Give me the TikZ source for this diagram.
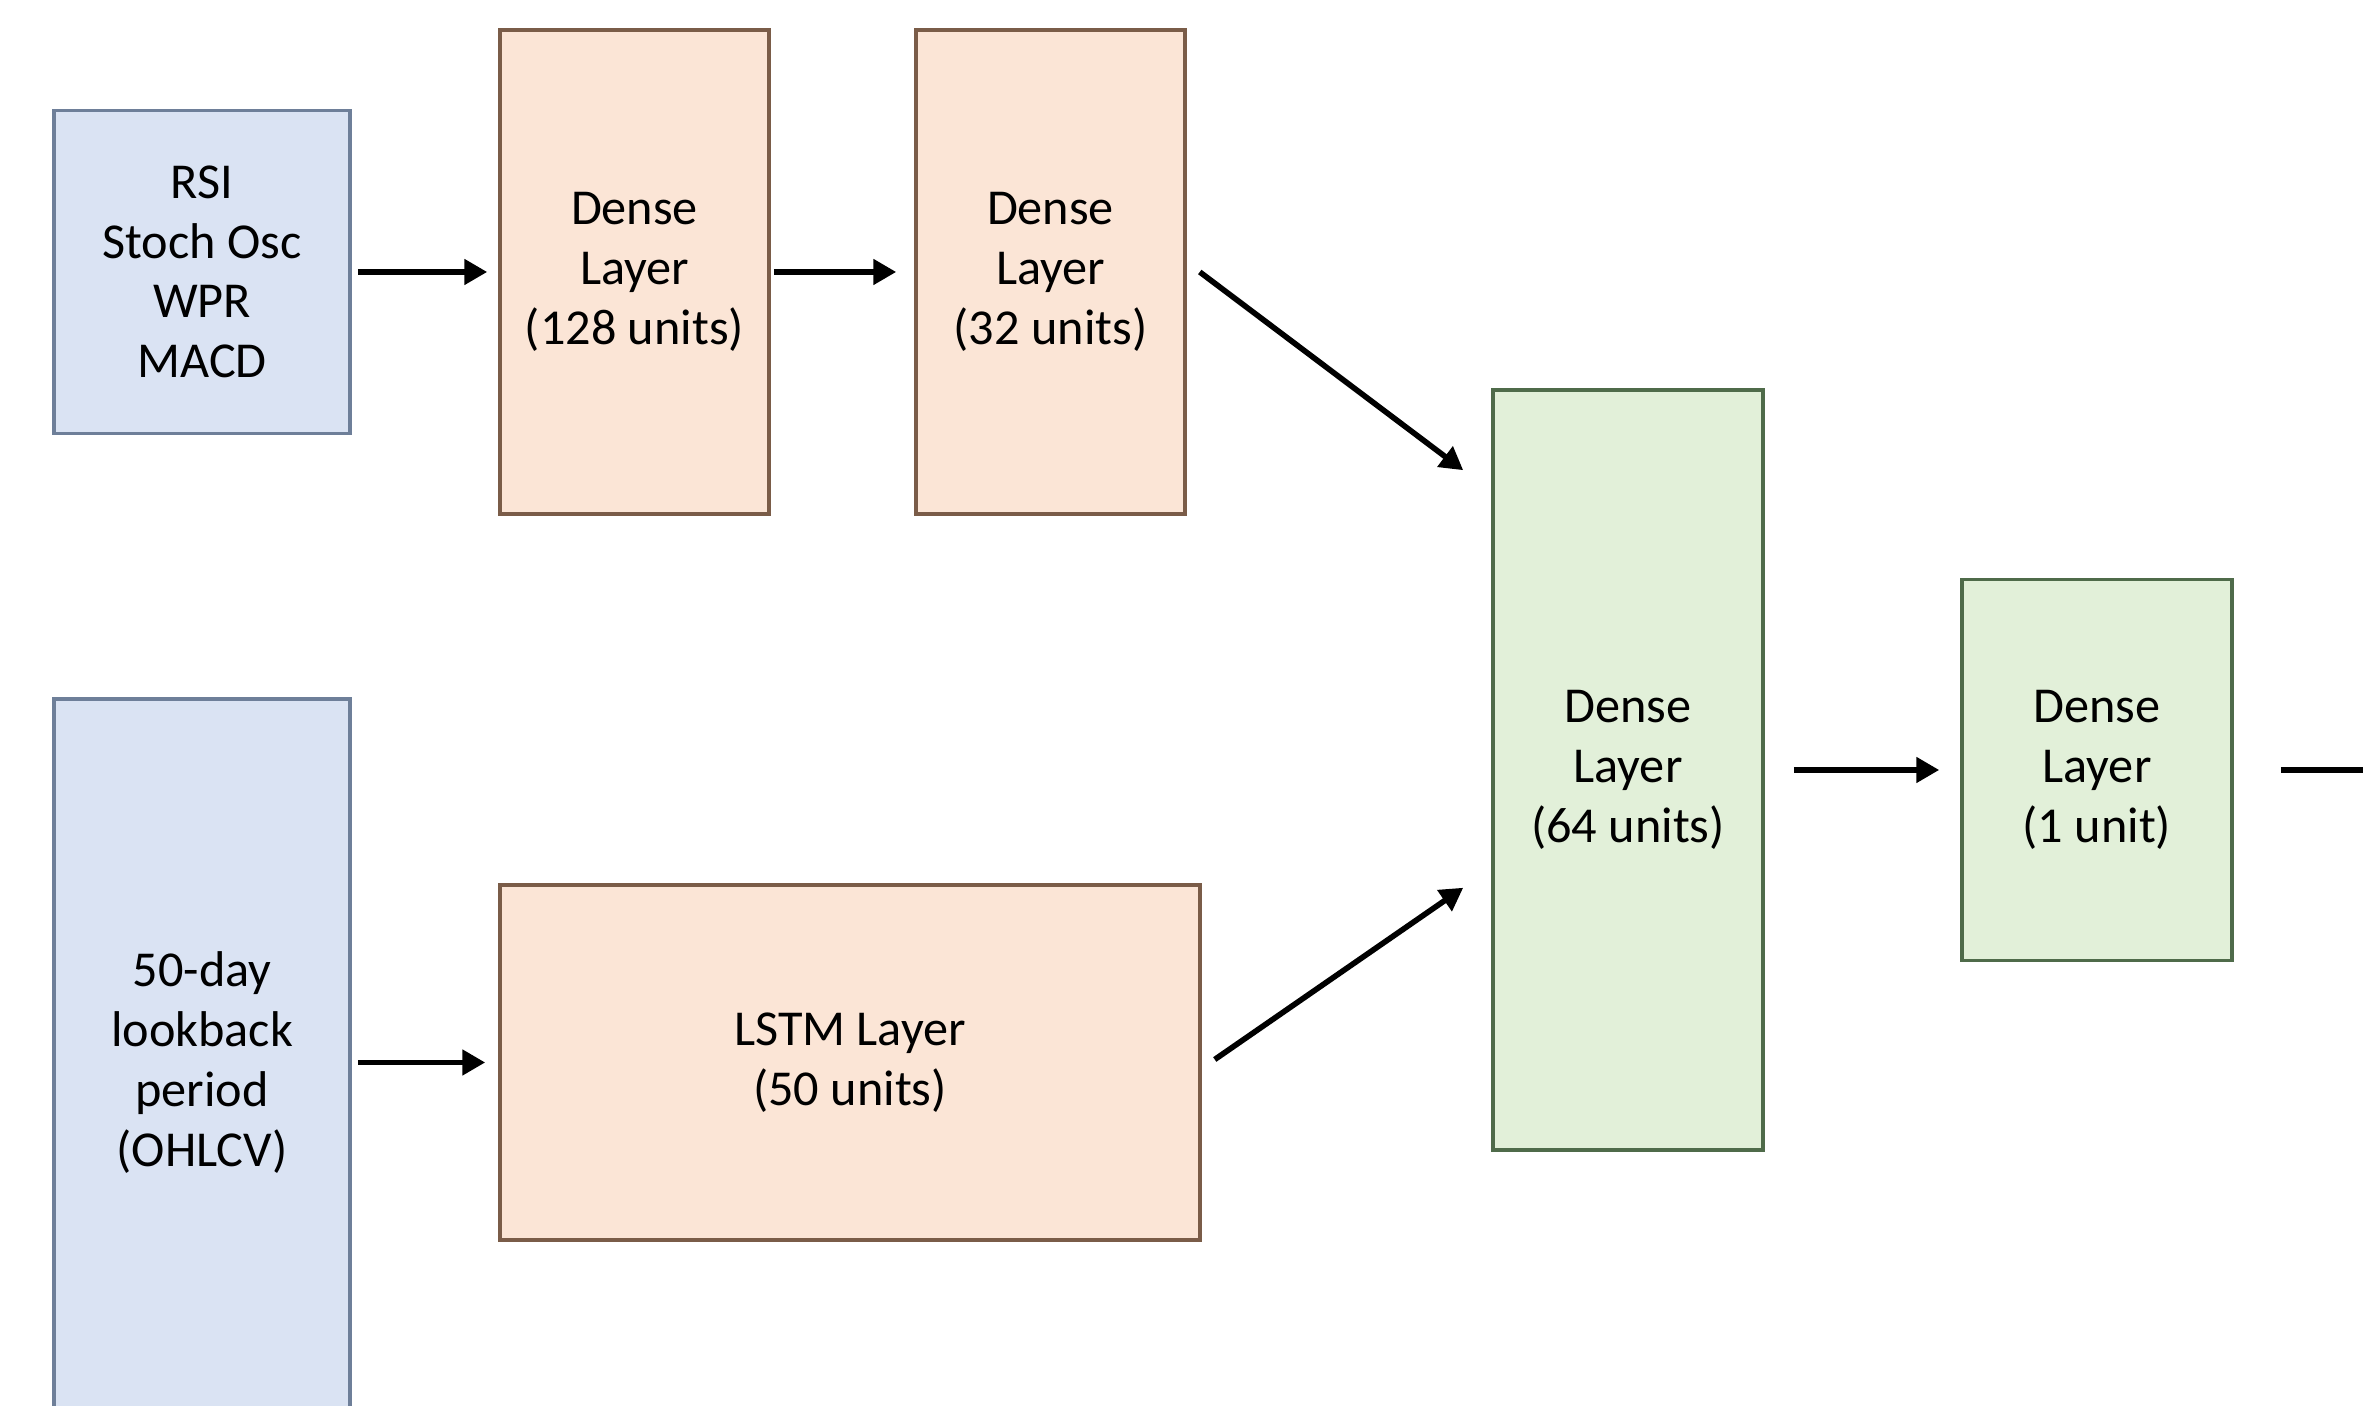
\documentclass[tikz,border=0pt]{standalone}
\usepackage{fontspec}
\setmainfont{Carlito}
\usetikzlibrary{positioning}
\usetikzlibrary{calc}
\usetikzlibrary{arrows.meta}
\definecolor{inblue}{RGB}{218,227,243}
\definecolor{inblueline}{RGB}{110,127,153}
\definecolor{layerorange}{RGB}{251,229,214}
\definecolor{layerorangeline}{RGB}{122,92,72}
\definecolor{outgreen}{RGB}{226,240,217}
\definecolor{outgreenline}{RGB}{79,107,74}

\begin{document}
\begin{tikzpicture}[
    box/.style={draw, line width=1pt, align=center, inner sep=0pt,
        font=\fontsize{14.3}{17}\selectfont},
    inbox/.style={box, fill=inblue, draw=inblueline},
    layerbox/.style={box, fill=layerorange, draw=layerorangeline},
    outbox/.style={box, fill=outgreen, draw=outgreenline},
    arr/.style={-{Triangle[length=6.5pt,width=7pt]}, line width=1.6pt}
]
    \useasboundingbox (0,0) rectangle (23.63,14.06);

    % inputs
    \node[inbox, minimum width=2.96cm, minimum height=3.23cm] (rsi) at (2.02,11.34)
        {RSI\\Stoch Osc\\WPR\\MACD};
    \node[inbox, minimum width=2.96cm, minimum height=7.27cm] (look) at (2.02,3.435)
        {50-day\\lookback\\period\\(OHLCV)};

    % first branch
    \node[layerbox, minimum width=2.69cm, minimum height=4.84cm] (d128) at (6.345,11.34)
        {Dense\\Layer\\(128 units)};
    \node[layerbox, minimum width=2.69cm, minimum height=4.84cm] (d32) at (10.505,11.34)
        {Dense\\Layer\\(32 units)};

    % second branch
    \node[layerbox, minimum width=7.0cm, minimum height=3.55cm] (lstm) at (8.5,3.435)
        {LSTM Layer\\(50 units)};

    % merged part
    \node[outbox, minimum width=2.7cm, minimum height=7.6cm] (d64) at (16.28,6.36)
        {Dense\\Layer\\(64 units)};
    \node[outbox, minimum width=2.7cm, minimum height=3.81cm] (d1) at (20.97,6.36)
        {Dense\\Layer\\(1 unit)};
    \coordinate (out) at (24.0,6.36);

    \draw[arr, shorten <=0.06cm, shorten >=0.11cm] (rsi.east) -- (d128.west);
    \draw[arr, shorten <=0.03cm, shorten >=0.18cm] (d128.east) -- (d32.west);
    \draw[arr, shorten <=0.06cm, shorten >=0.13cm] (look.east) -- (lstm.west);
    \draw[arr] ([xshift=0.13cm]d32.east) -- ([xshift=-0.28cm,yshift=-0.82cm]d64.north west);
    \draw[arr] ([xshift=0.13cm,yshift=0.03cm]lstm.east) -- ([xshift=-0.28cm,yshift=2.64cm]d64.south west);
    \draw[arr, shorten <=0.29cm, shorten >=0.21cm] (d64.east) -- (d1.west);
    \draw[line width=1.6pt, shorten <=0.47cm] (d1.east) -- (out);
\end{tikzpicture}
\end{document}
